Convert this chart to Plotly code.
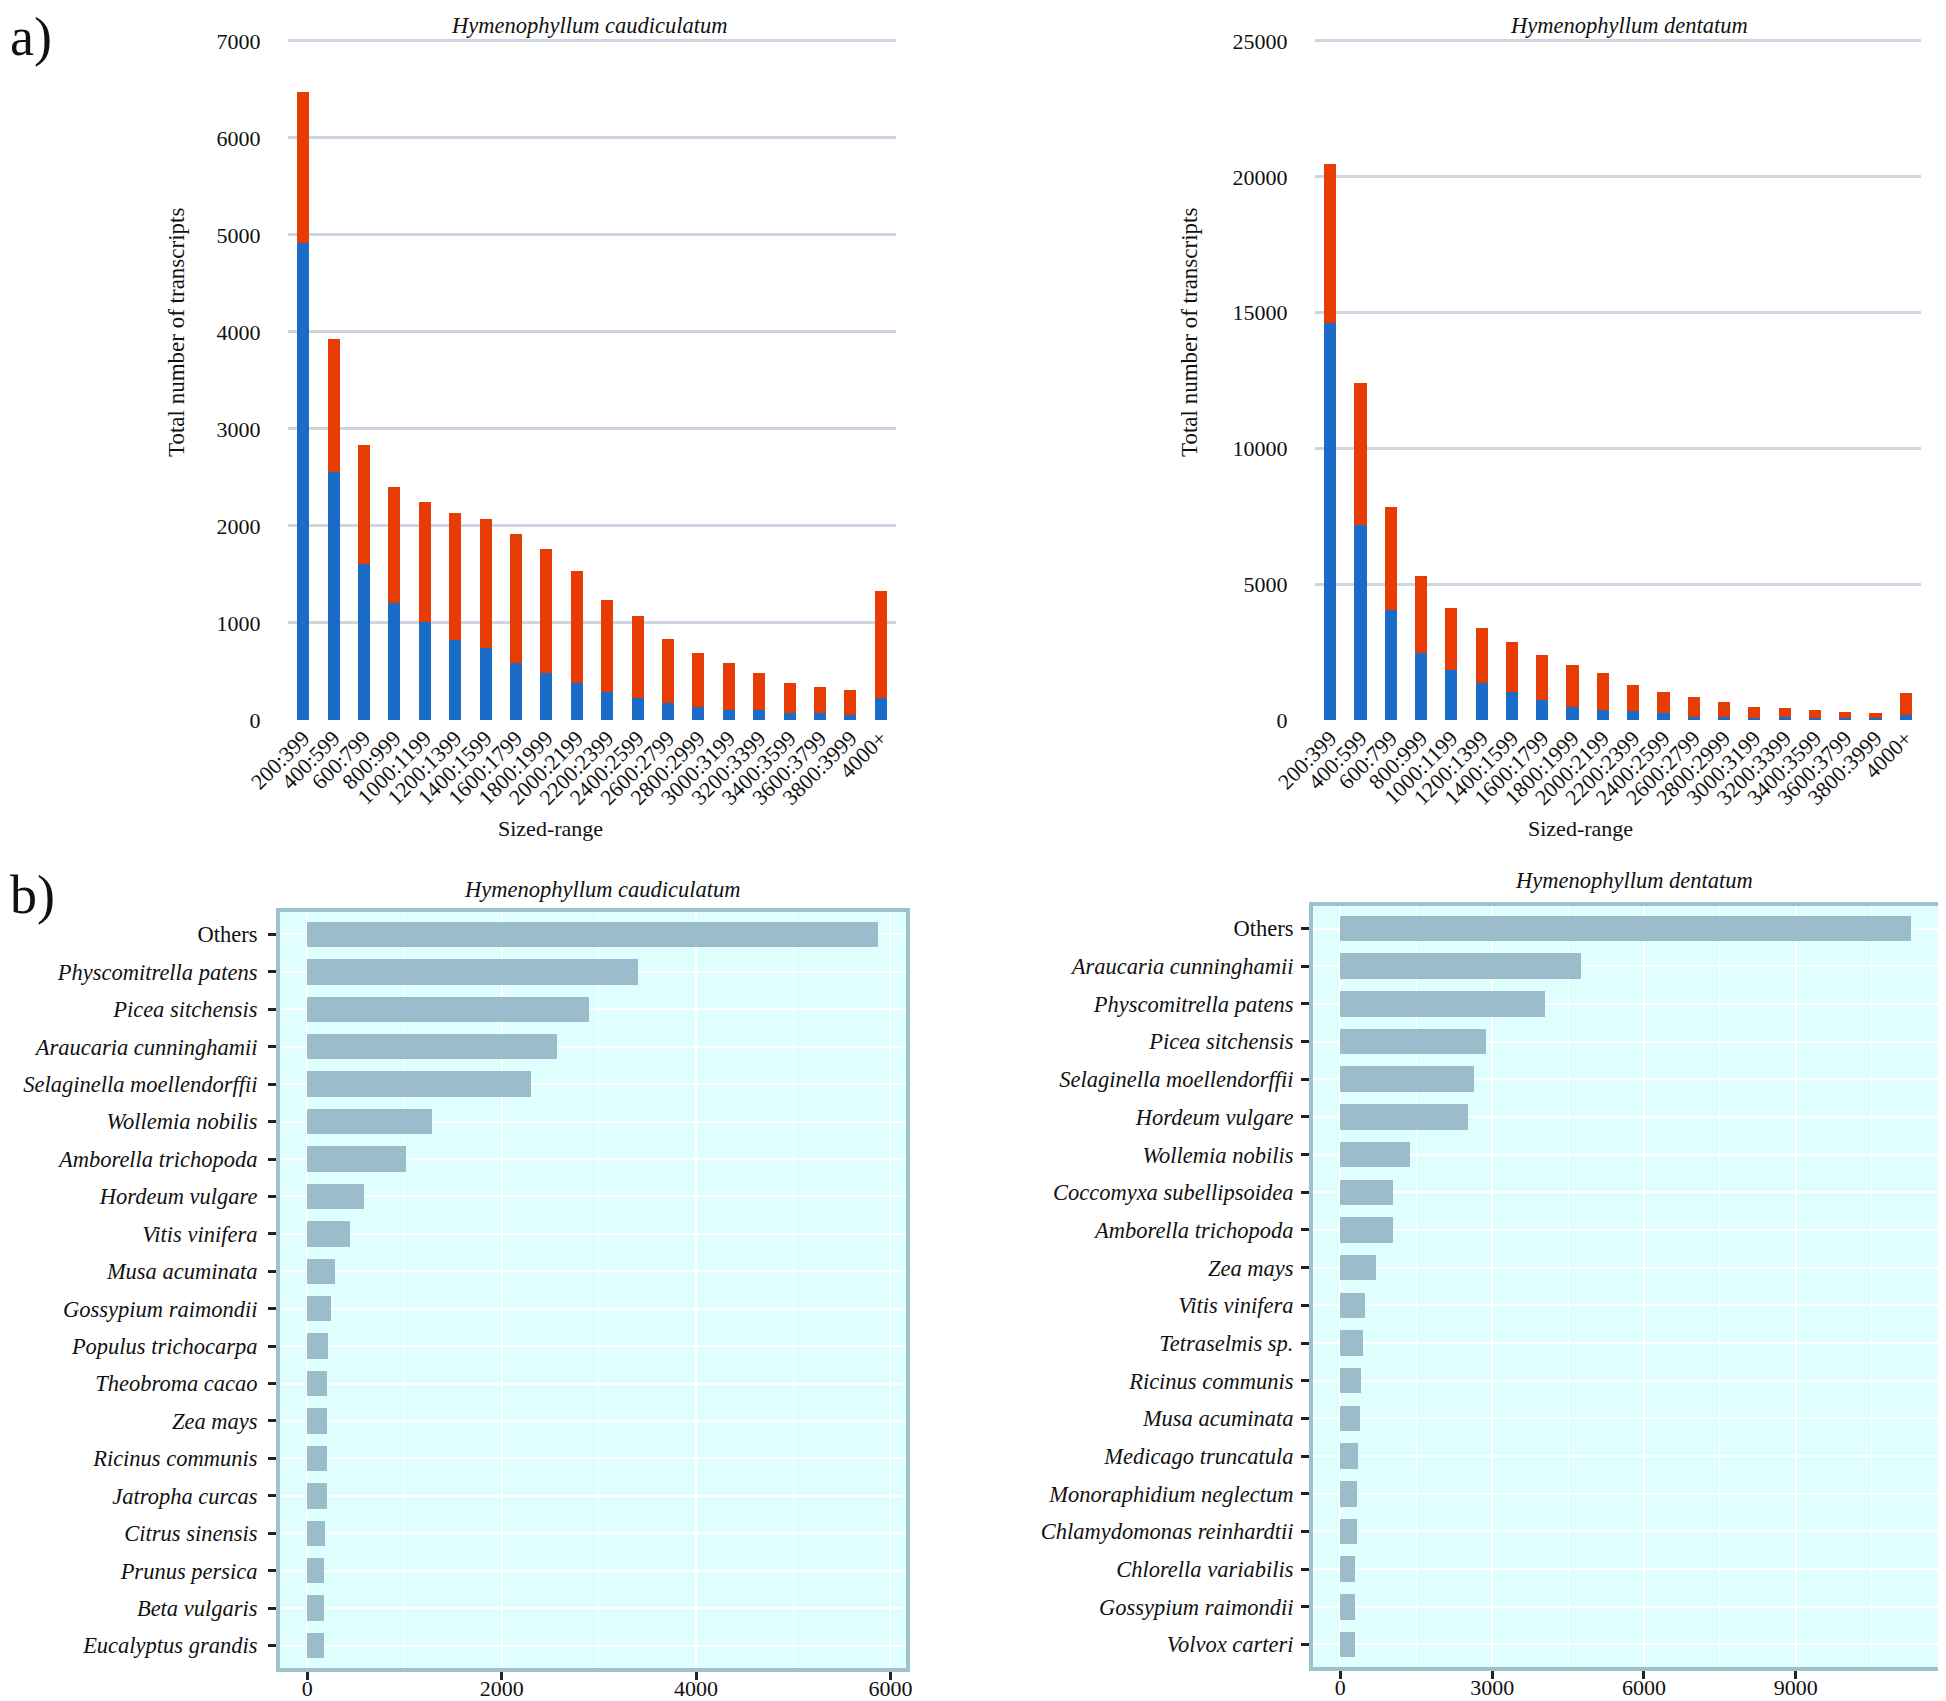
import plotly.graph_objects as go

size_ranges = ["200:399", "400:599", "600:799", "800:999", "1000:1199", "1200:1399",
               "1400:1599", "1600:1799", "1800:1999", "2000:2199", "2200:2399",
               "2400:2599", "2600:2799", "2800:2999", "3000:3199", "3200:3399",
               "3400:3599", "3600:3799", "3800:3999", "4000+"]

# H. caudiculatum: blue (lower) segment and total height
cau_blue = [4920, 2560, 1605, 1210, 1015, 825, 745, 585, 485, 378, 290, 223, 172,
            138, 104, 104, 70, 70, 49, 223]
cau_total = [6470, 3925, 2835, 2402, 2245, 2130, 2072, 1920, 1764, 1535, 1240,
             1070, 838, 686, 584, 483, 378, 344, 310, 1327]

# H. dentatum
den_blue = [14600, 7180, 4060, 2455, 1840, 1355, 1040, 725, 495, 365, 315, 242,
            121, 121, 60, 121, 60, 60, 60, 182]
den_total = [20460, 12420, 7840, 5300, 4115, 3390, 2890, 2395, 2030, 1718, 1285,
             1041, 860, 668, 495, 425, 364, 303, 253, 990]

cau_red = [t - b for t, b in zip(cau_total, cau_blue)]
den_red = [t - b for t, b in zip(den_total, den_blue)]

# Panel b: species hits
cau_species = ["Others", "Physcomitrella patens", "Picea sitchensis", "Araucaria cunninghamii",
               "Selaginella moellendorffii", "Wollemia nobilis", "Amborella trichopoda",
               "Hordeum vulgare", "Vitis vinifera", "Musa acuminata", "Gossypium raimondii",
               "Populus trichocarpa", "Theobroma cacao", "Zea mays", "Ricinus communis",
               "Jatropha curcas", "Citrus sinensis", "Prunus persica", "Beta vulgaris",
               "Eucalyptus grandis"]
cau_counts = [5870, 3400, 2900, 2565, 2300, 1283, 1013, 582, 445, 283, 240, 214,
              202, 201, 200, 199, 183, 170, 169, 168]

den_species = ["Others", "Araucaria cunninghamii", "Physcomitrella patens", "Picea sitchensis",
               "Selaginella moellendorffii", "Hordeum vulgare", "Wollemia nobilis",
               "Coccomyxa subellipsoidea", "Amborella trichopoda", "Zea mays", "Vitis vinifera",
               "Tetraselmis sp.", "Ricinus communis", "Musa acuminata", "Medicago truncatula",
               "Monoraphidium neglectum", "Chlamydomonas reinhardtii", "Chlorella variabilis",
               "Gossypium raimondii", "Volvox carteri"]
den_counts = [11270, 4756, 4043, 2878, 2640, 2521, 1367, 1034, 1032, 713, 488, 452,
              404, 380, 357, 321, 320, 298, 297, 296]

cau_ticks_y = [0, 1000, 2000, 3000, 4000, 5000, 6000, 7000]
den_ticks_y = [0, 5000, 10000, 15000, 20000, 25000]
cau_ticks_x = [0, 2000, 4000, 6000]
den_ticks_x = [0, 3000, 6000, 9000]

# page is 1946x1701; the html body has an 8px margin, so the figure is 8px smaller
OFF = 8
W, H = 1946 - OFF, 1701 - OFF
FONT = "Liberation Serif, Times New Roman, serif"
BLUE = "#1B6BC8"
RED = "#E83C05"
BARB = "#9BBDCB"
BG = "#DFFFFF"
BORDER = "#9DC1CD"
GRID_A = "#CCD5E0"


def px_x(a, b):
    return [(a - OFF) / W, (b - OFF) / W]


def px_y(top, bottom):
    return [1 - (bottom - OFF) / H, 1 - (top - OFF) / H]


fig = go.Figure()

# Panel a traces
fig.add_trace(go.Bar(x=size_ranges, y=cau_blue, marker_color=BLUE, width=0.4,
                     xaxis="x", yaxis="y", showlegend=False, marker_line_width=0))
fig.add_trace(go.Bar(x=size_ranges, y=cau_red, marker_color=RED, width=0.4,
                     xaxis="x", yaxis="y", showlegend=False, marker_line_width=0))
fig.add_trace(go.Bar(x=size_ranges, y=den_blue, marker_color=BLUE, width=0.4,
                     xaxis="x2", yaxis="y2", showlegend=False, marker_line_width=0))
fig.add_trace(go.Bar(x=size_ranges, y=den_red, marker_color=RED, width=0.4,
                     xaxis="x2", yaxis="y2", showlegend=False, marker_line_width=0))


def lab(s):
    return s if s == "Others" else "<i>" + s + "</i>"


fig.add_trace(go.Bar(y=[lab(s) for s in cau_species], x=cau_counts, orientation="h",
                     marker_color=BARB, width=0.68, xaxis="x3", yaxis="y3",
                     showlegend=False, marker_line_width=0))
fig.add_trace(go.Bar(y=[lab(s) for s in den_species], x=den_counts, orientation="h",
                     marker_color=BARB, width=0.68, xaxis="x4", yaxis="y4",
                     showlegend=False, marker_line_width=0))

tickfont = dict(family=FONT, size=22, color="#111")
spfont = dict(family=FONT, size=22.5, color="#111")

# panel a: 0 line at 720px, top value line at 41px; pad range slightly so the top gridline shows
A_TOP, A_BOT = 41, 720
pad = 0.008
a_top_px = A_TOP - pad * (A_BOT - A_TOP)

layout = dict(
    width=W, height=H, barmode="stack",
    margin=dict(l=0, r=0, t=0, b=0, autoexpand=False),
    paper_bgcolor="white", plot_bgcolor="rgba(0,0,0,0)",
    font=dict(family=FONT, size=22, color="#111"),
    # panel a left
    xaxis=dict(domain=px_x(288, 896), anchor="y", range=[-0.5, 19.5], tickangle=-45,
               tickfont=tickfont, showgrid=False, showline=False, zeroline=False,
               ticks="", type="category", automargin=False),
    yaxis=dict(domain=px_y(a_top_px, A_BOT), anchor="x", range=[0, 7000 * (1 + pad)],
               tickvals=cau_ticks_y, tickformat="d",
               showgrid=True, gridcolor=GRID_A, gridwidth=3, zeroline=False, automargin=False,
               tickfont=tickfont, ticks="outside", ticklen=22, tickcolor="rgba(0,0,0,0)"),
    # panel a right
    xaxis2=dict(domain=px_x(1315, 1921), anchor="y2", range=[-0.5, 19.5], tickangle=-45,
                tickfont=tickfont, showgrid=False, showline=False, zeroline=False,
                ticks="", type="category", automargin=False),
    yaxis2=dict(domain=px_y(a_top_px, A_BOT), anchor="x2", range=[0, 25000 * (1 + pad)],
                tickvals=den_ticks_y, tickformat="d",
                showgrid=True, gridcolor=GRID_A, gridwidth=3, zeroline=False, automargin=False,
                tickfont=tickfont, ticks="outside", ticklen=22, tickcolor="rgba(0,0,0,0)"),
    # panel b left
    xaxis3=dict(domain=px_x(280, 906), anchor="y3", range=[-280, 6160], tickvals=cau_ticks_x,
                showgrid=True, gridcolor="white", gridwidth=2, automargin=False,
                minor=dict(dtick=1000, tick0=0, showgrid=True, gridcolor="white", gridwidth=1),
                showline=True, linecolor=BORDER, linewidth=4, mirror=True, zeroline=False,
                ticks="outside", ticklen=8, tickwidth=3, tickcolor="#222", tickfont=tickfont,
                ticklabelstandoff=-10),
    yaxis3=dict(domain=px_y(912, 1668), anchor="x3", range=[19.6, -0.6], type="category",
                showgrid=True, gridcolor="white", gridwidth=2, automargin=False,
                showline=True, linecolor=BORDER, linewidth=4, mirror=True, zeroline=False,
                ticks="outside", ticklen=8, tickwidth=3, tickcolor="#222", tickfont=spfont,
                ticklabelstandoff=6),
    # panel b right
    xaxis4=dict(domain=px_x(1313, 1938), anchor="y4", range=[-540, 11810], tickvals=den_ticks_x,
                showgrid=True, gridcolor="white", gridwidth=2, automargin=False,
                minor=dict(dtick=1500, tick0=0, showgrid=True, gridcolor="white", gridwidth=1),
                showline=True, linecolor=BORDER, linewidth=4, mirror=True, zeroline=False,
                ticks="outside", ticklen=8, tickwidth=3, tickcolor="#222", tickfont=tickfont,
                ticklabelstandoff=-10),
    yaxis4=dict(domain=px_y(906, 1667), anchor="x4", range=[19.6, -0.6], type="category",
                showgrid=True, gridcolor="white", gridwidth=2, automargin=False,
                showline=True, linecolor=BORDER, linewidth=4, mirror=True, zeroline=False,
                ticks="outside", ticklen=8, tickwidth=3, tickcolor="#222", tickfont=spfont,
                ticklabelstandoff=3),
)
fig.update_layout(**layout)

# Panel b backgrounds (light cyan) drawn as shapes below traces
for xd, yd in [(px_x(280, 906), px_y(912, 1668)), (px_x(1313, 1938), px_y(906, 1667))]:
    fig.add_shape(type="rect", xref="paper", yref="paper", x0=xd[0], x1=xd[1],
                  y0=yd[0], y1=yd[1], fillcolor=BG, line_width=0, layer="below")


def ann(text, x, y, size=22, angle=0, xanchor="center"):
    fig.add_annotation(text=text, x=(x - OFF) / W, y=1 - (y - OFF) / H, xref="paper",
                       yref="paper", showarrow=False,
                       font=dict(family=FONT, size=size, color="#111"),
                       textangle=angle, xanchor=xanchor, yanchor="middle")


ann("<i>Hymenophyllum caudiculatum</i>", 589, 25, size=22.5)
ann("<i>Hymenophyllum dentatum</i>", 1629, 25, size=22.5)
ann("Total number of transcripts", 176, 333, size=23, angle=-90)
ann("Total number of transcripts", 1189, 333, size=23, angle=-90)
ann("Sized-range", 550, 828, size=22)
ann("Sized-range", 1580, 828, size=22)
ann("<i>Hymenophyllum caudiculatum</i>", 602, 889, size=22.5)
ann("<i>Hymenophyllum dentatum</i>", 1634, 880, size=22.5)
ann("a)", 8, 37, size=54, xanchor="left")
ann("b)", 8, 895, size=54, xanchor="left")

fig.write_html("out.html")
